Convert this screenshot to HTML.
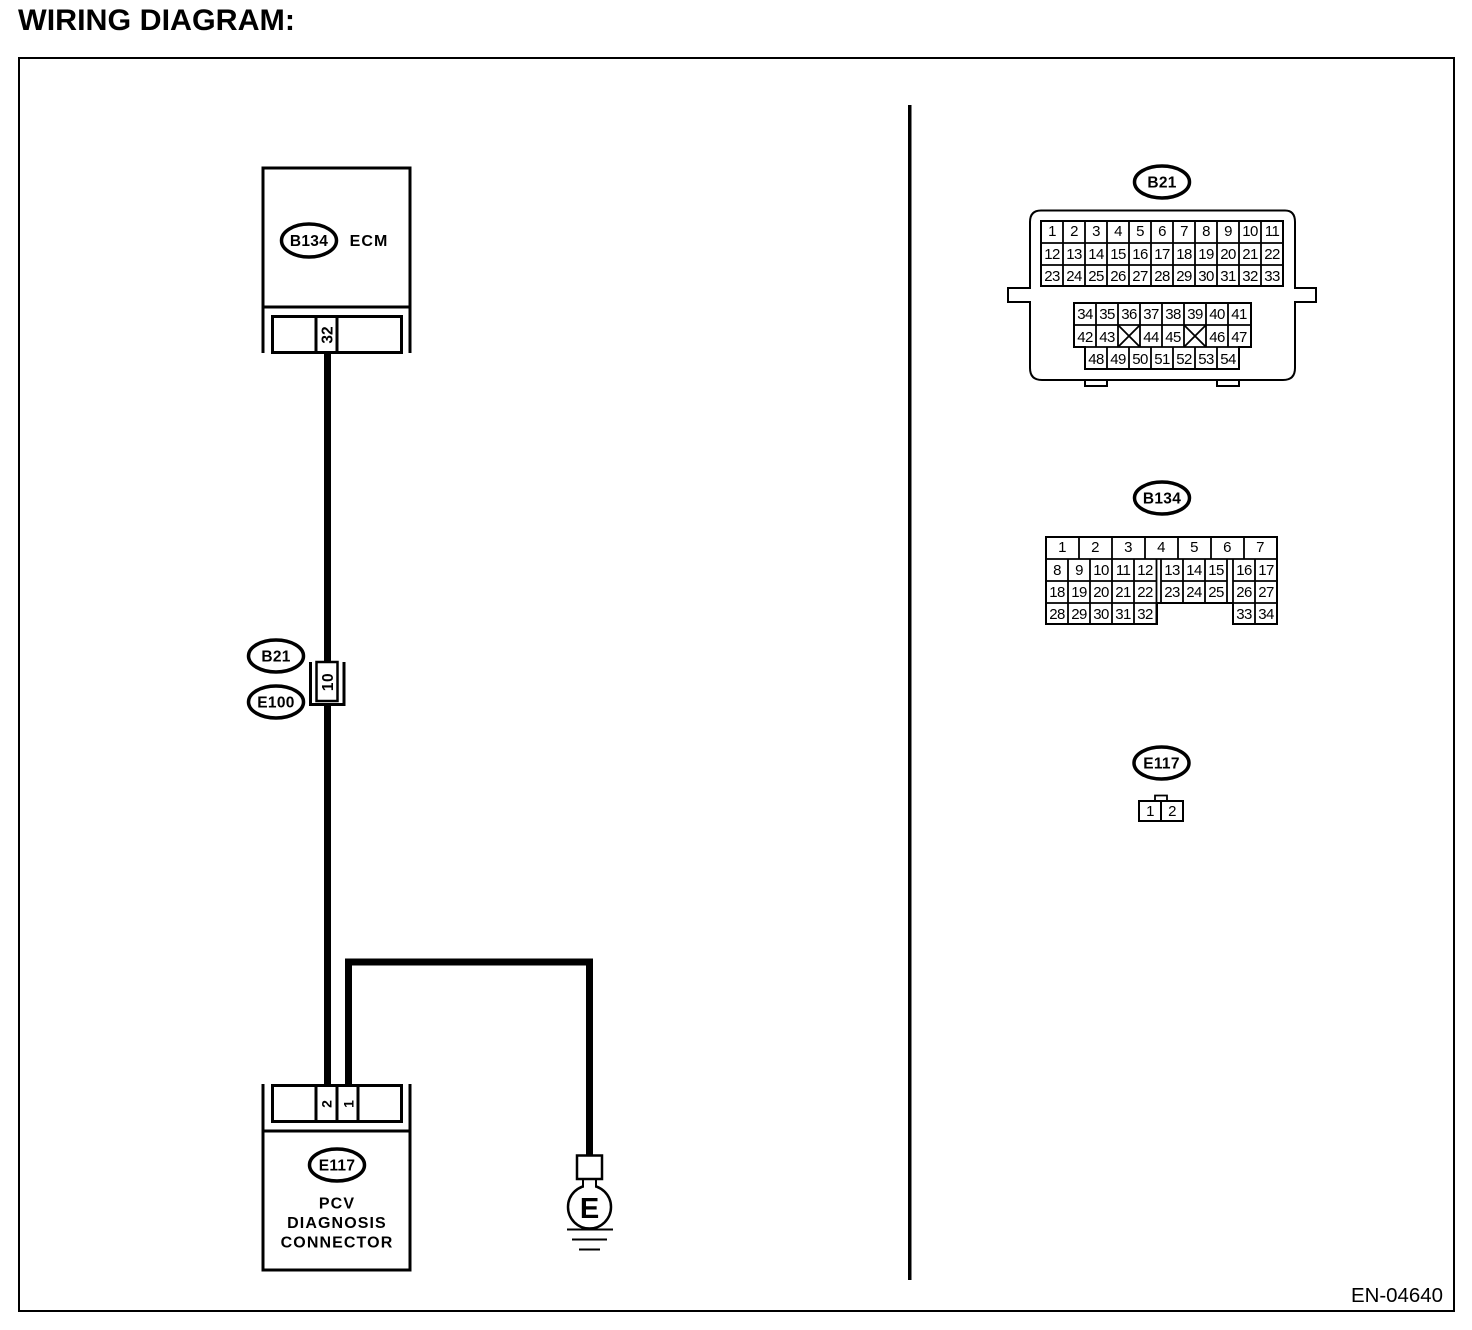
<!DOCTYPE html>
<html><head><meta charset="utf-8"><style>
html,body{margin:0;padding:0;background:#fff}
svg{display:block}
text{font-family:"Liberation Sans",sans-serif;fill:#000;text-anchor:middle}
.n{font-size:15px;letter-spacing:-.6px}
.o{font-size:15.5px;font-weight:bold;letter-spacing:.3px}
.b{font-size:16px;font-weight:bold;letter-spacing:1.1px}
.l{fill:none;stroke:#000;stroke-width:2}
.t{fill:none;stroke:#000;stroke-width:1.8}
.e{fill:#fff;stroke:#000;stroke-width:3.500}
.w{fill:none;stroke:#000;stroke-width:7}
.h{fill:none;stroke:#000;stroke-width:3}
</style></head><body>
<svg width="1472" height="1330" viewBox="0 0 1472 1330" xmlns="http://www.w3.org/2000/svg">
<rect width="1472" height="1330" fill="#fff"/>
<text x="18" y="30" style="text-anchor:start;font-size:29.500px;font-weight:bold" textLength="277" lengthAdjust="spacingAndGlyphs">WIRING DIAGRAM:</text>
<rect x="19" y="58" width="1435" height="1253" class="l"/>
<rect x="908" y="105" width="3.5" height="1175" fill="#000"/>
<text x="1397" y="1302" style="font-size:20px" textLength="92" lengthAdjust="spacingAndGlyphs">EN-04640</text>

<!-- ECM -->
<path class="h" d="M263 353V168H410V353M263 307H410"/>
<rect x="272.500" y="316.500" width="129" height="36" class="h"/>
<path class="h" d="M316 316V352M337 316V352"/>
<ellipse cx="309" cy="240.500" rx="27.500" ry="16.500" class="e"/>
<text x="309" y="246" class="o">B134</text>
<text x="369" y="246" class="b">ECM</text>
<text transform="translate(332.500,335) rotate(-90)" class="o" style="letter-spacing:0">32</text>

<!-- wires -->
<path class="w" d="M327.500 353V662M327.500 705V1085"/>
<path class="w" d="M348.500 1085V962H589.500V1155"/>

<!-- inline connector -->
<ellipse cx="276" cy="656" rx="27.500" ry="16" class="e"/>
<text x="276" y="661.500" class="o">B21</text>
<ellipse cx="276" cy="702" rx="27.500" ry="16" class="e"/>
<text x="276" y="707.500" class="o">E100</text>
<rect x="316.500" y="662" width="21" height="39" fill="#fff" stroke="#000" stroke-width="2.500"/>
<path fill="none" stroke="#000" stroke-width="3" d="M310.500 662V704.500H344V662"/>
<text transform="translate(333,682) rotate(-90)" class="o" style="letter-spacing:.5px">10</text>

<!-- PCV connector -->
<path class="h" d="M263 1084V1270H410V1084M263 1131H410"/>
<rect x="272.500" y="1085.500" width="129" height="36" class="h"/>
<path class="h" d="M316 1085V1122M337 1085V1122M358 1085V1122"/>
<text transform="translate(331.500,1104) rotate(-90)" class="o" style="font-size:14px;letter-spacing:0">2</text>
<text transform="translate(353.500,1104) rotate(-90)" class="o" style="font-size:14px;letter-spacing:0">1</text>
<ellipse cx="337" cy="1165" rx="27.500" ry="16" class="e"/>
<text x="337" y="1170.500" class="o">E117</text>
<text x="337" y="1208.500" class="b">PCV</text>
<text x="337" y="1228" class="b">DIAGNOSIS</text>
<text x="337" y="1247.500" class="b">CONNECTOR</text>

<!-- ground -->
<rect x="577" y="1155.500" width="25" height="23.500" fill="#fff" stroke="#000" stroke-width="2.500"/>
<circle cx="589.500" cy="1207" r="21.500" fill="#fff" stroke="#000" stroke-width="2.500"/>
<path d="M583 1179V1187M596 1179V1187" class="l"/>
<rect x="584" y="1184" width="11" height="5" fill="#fff"/>
<text x="589.500" y="1218" style="font-size:29px;font-weight:bold">E</text>
<path class="l" d="M567 1229.500H613M572 1239.500H607M579 1249.500H600"/>

<!-- B21 connector -->
<ellipse cx="1162" cy="182" rx="27.500" ry="16" class="e"/>
<text x="1162" y="187.500" class="o">B21</text>
<path class="l" d="M1041 210.500H1285Q1295 210.500 1295 222V288H1316V302H1295V368Q1295 380 1283 380H1042Q1030 380 1030 368V302H1008V288H1030V222Q1030 210.500 1041 210.500Z"/>
<path class="l" d="M1085 380V386H1107V380M1217 380V386H1239V380"/>
<rect x="1041" y="221" width="242" height="65" class="l"/>
<path class="t" d="M1041 243H1283M1041 265H1283M1063 221V286M1085 221V286M1107 221V286M1129 221V286M1151 221V286M1173 221V286M1195 221V286M1217 221V286M1239 221V286M1261 221V286"/>
<text class="n" x="1052" y="236">1</text><text class="n" x="1074" y="236">2</text><text class="n" x="1096" y="236">3</text><text class="n" x="1118" y="236">4</text><text class="n" x="1140" y="236">5</text><text class="n" x="1162" y="236">6</text><text class="n" x="1184" y="236">7</text><text class="n" x="1206" y="236">8</text><text class="n" x="1228" y="236">9</text><text class="n" x="1250" y="236">10</text><text class="n" x="1272" y="236">11</text>
<text class="n" x="1052" y="259">12</text><text class="n" x="1074" y="259">13</text><text class="n" x="1096" y="259">14</text><text class="n" x="1118" y="259">15</text><text class="n" x="1140" y="259">16</text><text class="n" x="1162" y="259">17</text><text class="n" x="1184" y="259">18</text><text class="n" x="1206" y="259">19</text><text class="n" x="1228" y="259">20</text><text class="n" x="1250" y="259">21</text><text class="n" x="1272" y="259">22</text>
<text class="n" x="1052" y="281">23</text><text class="n" x="1074" y="281">24</text><text class="n" x="1096" y="281">25</text><text class="n" x="1118" y="281">26</text><text class="n" x="1140" y="281">27</text><text class="n" x="1162" y="281">28</text><text class="n" x="1184" y="281">29</text><text class="n" x="1206" y="281">30</text><text class="n" x="1228" y="281">31</text><text class="n" x="1250" y="281">32</text><text class="n" x="1272" y="281">33</text>
<path class="l" d="M1074 303H1251V347H1239V369H1085V347H1074Z"/>
<path class="t" d="M1074 325H1251M1074 347H1251M1096 303V347M1118 303V347M1140 303V347M1162 303V347M1184 303V347M1206 303V347M1228 303V347M1107 347V369M1129 347V369M1151 347V369M1173 347V369M1195 347V369M1217 347V369"/>
<path class="t" d="M1118 325L1140 347M1140 325L1118 347M1184 325L1206 347M1206 325L1184 347"/>
<text class="n" x="1085" y="319">34</text><text class="n" x="1107" y="319">35</text><text class="n" x="1129" y="319">36</text><text class="n" x="1151" y="319">37</text><text class="n" x="1173" y="319">38</text><text class="n" x="1195" y="319">39</text><text class="n" x="1217" y="319">40</text><text class="n" x="1239" y="319">41</text>
<text class="n" x="1085" y="342">42</text><text class="n" x="1107" y="342">43</text><text class="n" x="1151" y="342">44</text><text class="n" x="1173" y="342">45</text><text class="n" x="1217" y="342">46</text><text class="n" x="1239" y="342">47</text>
<text class="n" x="1096" y="364">48</text><text class="n" x="1118" y="364">49</text><text class="n" x="1140" y="364">50</text><text class="n" x="1162" y="364">51</text><text class="n" x="1184" y="364">52</text><text class="n" x="1206" y="364">53</text><text class="n" x="1228" y="364">54</text>

<!-- B134 connector -->
<ellipse cx="1162" cy="498" rx="27.500" ry="16" class="e"/>
<text x="1162" y="503.500" class="o">B134</text>
<path class="l" d="M1046 537H1277V624H1233V603H1157V624H1046Z"/>
<path class="t" d="M1046 559H1277M1046 581H1157M1161 581H1227M1233 581H1277M1046 603H1157M1161 603H1227M1233 603H1277"/>
<path class="t" d="M1079 537V559M1112 537V559M1145 537V559M1178 537V559M1211 537V559M1244 537V559M1068 559V624M1090 559V624M1112 559V624M1134 559V624M1156.500 559V624M1161 559V603M1183 559V603M1205 559V603M1227 559V603M1233 559V624M1255 559V624"/>
<rect x="1158" y="604" width="74" height="22" fill="#fff"/>
<path class="l" d="M1156.500 624V603M1233 624V603"/>
<text class="n" x="1062" y="552">1</text><text class="n" x="1095" y="552">2</text><text class="n" x="1128" y="552">3</text><text class="n" x="1161" y="552">4</text><text class="n" x="1194" y="552">5</text><text class="n" x="1227" y="552">6</text><text class="n" x="1260" y="552">7</text>
<text class="n" x="1057" y="575">8</text><text class="n" x="1079" y="575">9</text><text class="n" x="1101" y="575">10</text><text class="n" x="1123" y="575">11</text><text class="n" x="1145" y="575">12</text><text class="n" x="1172" y="575">13</text><text class="n" x="1194" y="575">14</text><text class="n" x="1216" y="575">15</text><text class="n" x="1244" y="575">16</text><text class="n" x="1266" y="575">17</text>
<text class="n" x="1057" y="597">18</text><text class="n" x="1079" y="597">19</text><text class="n" x="1101" y="597">20</text><text class="n" x="1123" y="597">21</text><text class="n" x="1145" y="597">22</text><text class="n" x="1172" y="597">23</text><text class="n" x="1194" y="597">24</text><text class="n" x="1216" y="597">25</text><text class="n" x="1244" y="597">26</text><text class="n" x="1266" y="597">27</text>
<text class="n" x="1057" y="619">28</text><text class="n" x="1079" y="619">29</text><text class="n" x="1101" y="619">30</text><text class="n" x="1123" y="619">31</text><text class="n" x="1145" y="619">32</text><text class="n" x="1244" y="619">33</text><text class="n" x="1266" y="619">34</text>

<!-- E117 connector -->
<ellipse cx="1161.500" cy="763" rx="27.500" ry="16" class="e"/>
<text x="1161.500" y="768.500" class="o">E117</text>
<rect x="1139" y="801" width="44" height="20" class="l"/>
<path class="l" d="M1161 801V821"/>
<path class="t" d="M1155 801V795.500H1167V801"/>
<text class="n" x="1150" y="816">1</text><text class="n" x="1172" y="816">2</text>
</svg>
</body></html>
